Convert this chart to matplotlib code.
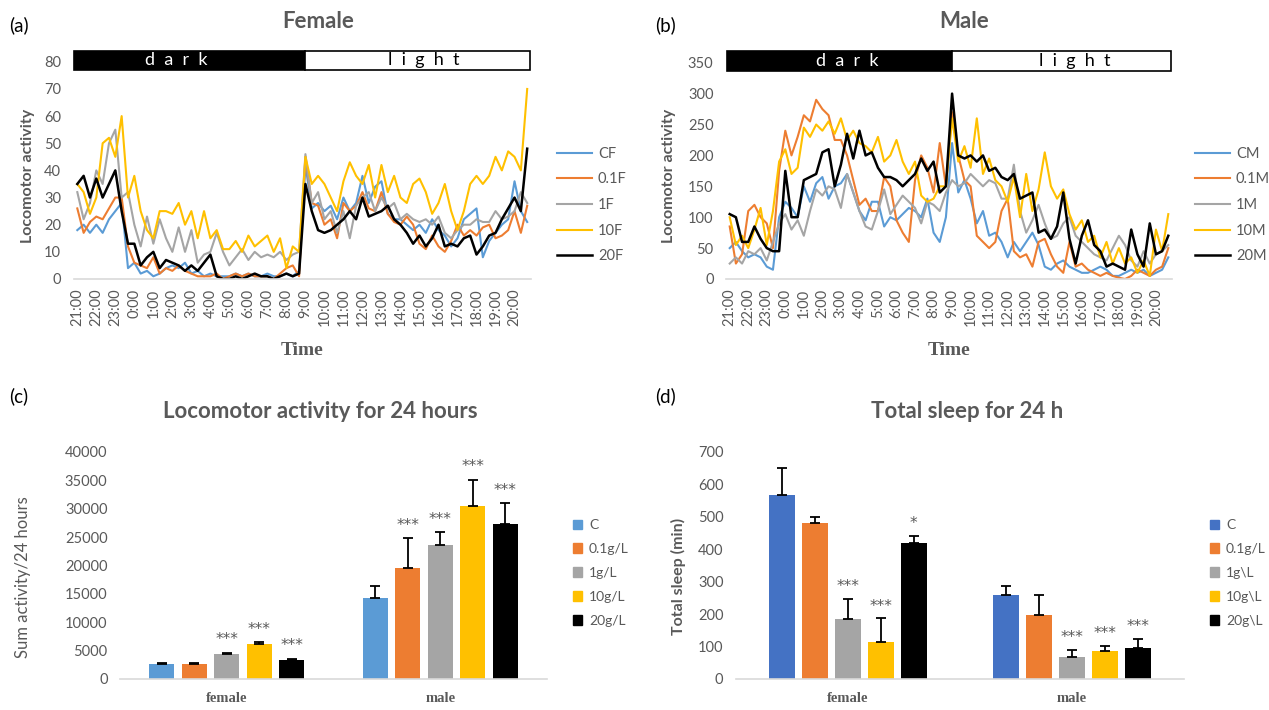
import numpy as np
import matplotlib
matplotlib.use('Agg')
import matplotlib.pyplot as plt
from matplotlib.patches import Rectangle, Patch

plt.rcParams['font.family'] = ['Lato', 'DejaVu Sans']

GRAY = '#595959'
line_colors = ['#5B9BD5', '#ED7D31', '#A5A5A5', '#FFC000', '#000000']

# time axis: 20-minute bins from 21:00 to 20:40
hours = [21, 22, 23] + list(range(0, 21))
hour_labels = ['%d:00' % h for h in hours]

# ---- (a) Female locomotor activity ----
female_labels = ['CF', '0.1F', '1F', '10F', '20F']
cf = [18, 20, 17, 20, 17, 22, 25, 28, 4, 6, 2, 3, 1, 2, 4, 5, 4, 6, 2, 3, 1, 2, 1, 1,
      1, 2, 1, 2, 1, 1, 2, 1, 1, 2, 1, 3, 42, 26, 28, 25, 27, 22, 30, 25, 28, 38, 28, 34,
      36, 24, 22, 22, 20, 18, 20, 17, 22, 18, 16, 12, 15, 22, 24, 26, 8, 14, 17, 20, 22, 36, 25, 21]
f01 = [26, 17, 21, 23, 22, 26, 30, 30, 12, 6, 5, 4, 8, 2, 4, 3, 5, 3, 2, 1, 1, 1, 2, 0,
       1, 2, 1, 2, 1, 1, 1, 0, 2, 4, 5, 1, 45, 28, 27, 20, 22, 15, 28, 25, 27, 32, 26, 25,
       32, 24, 21, 20, 23, 20, 13, 11, 16, 12, 10, 14, 20, 16, 18, 16, 19, 20, 15, 16, 18, 25, 17, 27]
f1 = [32, 22, 28, 40, 35, 50, 55, 30, 32, 20, 12, 23, 13, 22, 15, 10, 19, 10, 18, 6, 9, 10, 17, 10,
      5, 8, 11, 7, 10, 8, 9, 8, 10, 7, 9, 10, 46, 28, 32, 22, 25, 17, 25, 15, 27, 30, 32, 25,
      30, 26, 28, 22, 24, 22, 21, 22, 20, 23, 17, 15, 18, 20, 20, 22, 21, 21, 25, 22, 23, 25, 32, 28]
f10 = [35, 32, 24, 30, 50, 52, 45, 60, 30, 38, 25, 18, 15, 25, 25, 24, 28, 20, 25, 15, 25, 15, 18, 11,
       11, 14, 10, 16, 12, 14, 16, 10, 15, 4, 12, 10, 45, 35, 38, 35, 30, 25, 36, 43, 38, 35, 42, 30,
       42, 32, 38, 30, 28, 35, 37, 32, 24, 28, 35, 25, 18, 25, 35, 38, 35, 38, 45, 40, 47, 45, 40, 70]
f20 = [35, 38, 30, 37, 30, 35, 40, 25, 13, 13, 5, 8, 10, 4, 7, 6, 5, 3, 5, 3, 6, 9, 1, 0,
       0, 1, 0, 1, 2, 1, 1, 0, 1, 2, 1, 2, 35, 25, 18, 17, 18, 20, 22, 25, 22, 30, 23, 24,
       25, 27, 22, 20, 17, 13, 16, 12, 15, 20, 12, 13, 12, 15, 16, 9, 12, 16, 17, 22, 26, 30, 25, 48]

# ---- (b) Male locomotor activity ----
male_labels = ['CM', '0.1M', '1M', '10M', '20M']
cm = [50, 60, 45, 35, 40, 35, 20, 15, 100, 125, 115, 100, 150, 125, 155, 165, 130, 150, 155, 170, 140, 110, 95, 125,
      125, 85, 100, 95, 105, 115, 110, 100, 130, 75, 60, 100, 220, 140, 160, 130, 90, 110, 70, 75, 60, 35, 60, 45,
      60, 75, 55, 20, 15, 25, 30, 20, 15, 10, 10, 15, 20, 15, 5, 5, 10, 15, 10, 15, 5, 10, 15, 35]
m01 = [85, 25, 40, 110, 120, 100, 90, 50, 175, 240, 200, 230, 265, 255, 290, 275, 265, 225, 225, 200, 160, 120, 130, 110,
       110, 165, 150, 95, 75, 60, 160, 200, 180, 140, 220, 150, 270, 200, 160, 150, 70, 60, 50, 60, 110, 130, 45, 35,
       40, 20, 60, 65, 40, 20, 10, 60, 20, 25, 15, 10, 5, 10, 5, 2, 0, 5, 15, 10, 5, 15, 20, 50]
m1 = [25, 35, 25, 45, 40, 50, 30, 60, 90, 105, 80, 95, 70, 110, 145, 135, 150, 145, 115, 170, 140, 110, 85, 80,
      110, 145, 105, 120, 135, 125, 115, 90, 125, 120, 110, 140, 160, 150, 155, 170, 160, 150, 160, 155, 130, 130, 185, 110,
      75, 95, 120, 90, 65, 70, 90, 100, 70, 60, 50, 40, 35, 30, 50, 70, 55, 30, 20, 45, 25, 40, 45, 55]
m10 = [100, 55, 70, 50, 80, 115, 55, 110, 190, 210, 170, 180, 245, 230, 250, 240, 255, 235, 260, 225, 240, 220, 215, 205,
       230, 190, 200, 225, 190, 170, 190, 135, 125, 130, 150, 150, 260, 190, 215, 180, 260, 170, 195, 160, 150, 125, 165, 100,
       170, 110, 145, 205, 150, 130, 145, 105, 80, 95, 60, 70, 35, 60, 25, 50, 25, 35, 10, 30, 5, 80, 45, 105]
m20 = [105, 100, 60, 60, 85, 65, 50, 45, 45, 175, 100, 100, 160, 165, 170, 205, 210, 150, 185, 235, 195, 240, 200, 205,
       180, 165, 165, 160, 150, 160, 170, 195, 175, 190, 140, 150, 300, 200, 195, 200, 190, 200, 175, 180, 165, 160, 170, 130,
       135, 140, 75, 80, 65, 85, 140, 65, 25, 70, 95, 55, 45, 20, 25, 20, 15, 80, 40, 20, 90, 40, 45, 70]

# ---- (c) Sum activity / 24 h ----
groups = ['female', 'male']
dose_c = ['C', '0.1g/L', '1g/L', '10g/L', '20g/L']
act_mean = {'female': [2700, 2700, 4400, 6200, 3300],
            'male': [14200, 19500, 23600, 30500, 27300]}
act_err = {'female': [200, 200, 200, 300, 300],
           'male': [2200, 5300, 2300, 4600, 3700]}
act_sig = {'female': ['', '', '***', '***', '***'],
           'male': ['', '***', '***', '***', '***']}

# ---- (d) Total sleep / 24 h ----
dose_d = ['C', '0.1g/L', '1g\\L', '10g\\L', '20g\\L']
sleep_mean = {'female': [568, 481, 186, 115, 418],
              'male': [259, 197, 69, 87, 96]}
sleep_err = {'female': [82, 19, 60, 72, 24],
             'male': [27, 62, 20, 16, 28]}
sleep_sig = {'female': ['', '', '***', '***', '*'],
             'male': ['', '', '***', '***', '***']}
bar_colors_c = ['#5B9BD5', '#ED7D31', '#A5A5A5', '#FFC000', '#000000']
bar_colors_d = ['#4472C4', '#ED7D31', '#A5A5A5', '#FFC000', '#000000']

W, H = 1269, 710
fig = plt.figure(figsize=(W / 100, H / 100), dpi=100)


def px_axes(l, t, r, b):
    return fig.add_axes([l / W, 1 - b / H, (r - l) / W, (b - t) / H])


def clean(ax, pad):
    for s in ['top', 'right', 'left']:
        ax.spines[s].set_visible(False)
    ax.spines['bottom'].set_color('#D9D9D9')
    ax.spines['bottom'].set_linewidth(1.2)
    ax.tick_params(length=0, colors=GRAY, labelsize=10.5)
    ax.tick_params(axis='y', pad=pad)


def line_panel(ax, series, labels, ymax, step, bar_lo, bar_hi, dark_x, light_x, lab_x, leg_x):
    x = np.arange(len(series[0]))
    for s, lab, c in zip(series, labels, line_colors):
        ax.plot(x, s, color=c, lw=1.8 if c == '#000000' else 1.5, label=lab)
    n = len(x)
    ax.set_xlim(-0.6, n - 0.4)
    ax.set_ylim(0, bar_hi + (bar_hi - bar_lo) * 0.05)
    ax.set_yticks(np.arange(0, ymax + 1, step))
    ax.set_xticks(x[::3])
    ax.set_xticklabels(hour_labels, rotation=90, fontsize=10.5)
    clean(ax, 9)
    ax.tick_params(axis='x', pad=7)
    ax.add_patch(Rectangle((-0.5, bar_lo), 36.5, bar_hi - bar_lo, facecolor='black',
                           edgecolor='black', lw=1.2, clip_on=False))
    ax.add_patch(Rectangle((36, bar_lo), n - 36.5, bar_hi - bar_lo, facecolor='white',
                           edgecolor='black', lw=1.2, clip_on=False))
    mid = (bar_lo + bar_hi) / 2
    ax.text(dark_x, mid, 'd  a  r  k', color='white', ha='center', va='center', fontsize=13)
    ax.text(light_x, mid, 'l  i  g  h  t', color='black', ha='center', va='center', fontsize=13)
    ax.set_ylabel('Locomotor activity', fontsize=11.5, fontweight='bold', color=GRAY)
    ax.yaxis.set_label_coords(lab_x, 0.45)
    ax.set_xlabel('Time', fontsize=14, fontweight='bold', family='Liberation Serif',
                  color=GRAY, labelpad=11)
    ax.legend(loc='center left', bbox_to_anchor=(leg_x / W, 1 - 205 / H),
              bbox_transform=fig.transFigure, frameon=False, borderpad=0, borderaxespad=0,
              fontsize=10.5, labelcolor=GRAY, handlelength=2.4, handletextpad=0.4,
              labelspacing=0.8)


ax_a = px_axes(73.5, 50, 531, 279)
line_panel(ax_a, [cf, f01, f1, f10, f20], female_labels, 80, 10, 77, 84, 15.6, 54.6,
           -0.084, 557)
ax_b = px_axes(726, 50, 1172, 279)
line_panel(ax_b, [cm, m01, m1, m10, m20], male_labels, 350, 50, 337, 369, 19.0, 55.8,
           -0.112, 1195)


def bar_panel(ax, means, errs, sigs, colors, labels, ymax, step, width, pitch, star_off):
    xc = np.arange(len(groups))
    handles = []
    for i, (lab, c) in enumerate(zip(labels, colors)):
        xs = xc + (i - 2) * pitch
        vals = [means[g][i] for g in groups]
        es = [errs[g][i] for g in groups]
        ax.bar(xs, vals, width, color=c, label=lab, zorder=2)
        ax.errorbar(xs, vals, yerr=[np.zeros(len(es)), es], fmt='none', ecolor='black',
                    elinewidth=1.3, capsize=3.5, capthick=1.3, zorder=3)
        for xx, v, e, g in zip(xs, vals, es, groups):
            if sigs[g][i]:
                ax.text(xx, v + e + star_off, sigs[g][i], ha='center', va='baseline',
                        fontsize=11, color=GRAY, family='DejaVu Sans')
        handles.append(Patch(color=c, label=lab))
    ax.set_xlim(-0.5, 1.5)
    ax.set_ylim(0, ymax)
    ax.set_yticks(np.arange(0, ymax + 1, step))
    ax.set_xticks(xc)
    ax.set_xticklabels(groups, fontsize=14, fontweight='bold', family='Liberation Serif')
    clean(ax, 9)
    ax.tick_params(axis='x', pad=9)
    return handles


def bar_legend(ax, handles, leg_x):
    ax.legend(handles=handles, loc='center left', bbox_to_anchor=(leg_x / W, 1 - 573 / H),
              bbox_transform=fig.transFigure, frameon=False, borderpad=0, borderaxespad=0,
              fontsize=10, labelcolor=GRAY, handlelength=0.65, handleheight=0.7,
              handletextpad=0.5, labelspacing=0.85)


ax_c = px_axes(120, 452, 547, 679)
hc = bar_panel(ax_c, act_mean, act_err, act_sig, bar_colors_c, dose_c, 40000, 5000,
               0.118, 0.152, 1500)
ax_c.set_ylabel('Sum activity/24 hours', fontsize=12, color=GRAY)
ax_c.yaxis.set_label_coords(-0.209, 0.45)
bar_legend(ax_c, hc, 573)

ax_d = px_axes(736, 452, 1184, 679)
hd = bar_panel(ax_d, sleep_mean, sleep_err, sleep_sig, bar_colors_d, dose_d, 700, 100,
               0.117, 0.147, 24)
ax_d.set_ylabel('Total sleep (min)', fontsize=11.5, fontweight='bold', color=GRAY)
ax_d.yaxis.set_label_coords(-0.112, 0.45)
bar_legend(ax_d, hd, 1210)

# titles and panel letters
fig.text(318 / W, 1 - 22 / H, 'Female', ha='center', va='center', fontsize=16,
         fontweight='bold', color=GRAY)
fig.text(964 / W, 1 - 22 / H, 'Male', ha='center', va='center', fontsize=16,
         fontweight='bold', color=GRAY)
fig.text(320 / W, 1 - 412 / H, 'Locomotor activity for 24 hours', ha='center', va='center',
         fontsize=16, fontweight='bold', color=GRAY)
fig.text(967 / W, 1 - 412 / H, 'Total sleep for 24 h', ha='center', va='center',
         fontsize=16, fontweight='bold', color=GRAY)
for lab, xx, yy in [('(a)', 9, 25), ('(b)', 655, 25), ('(c)', 9, 396), ('(d)', 655, 396)]:
    fig.text(xx / W, 1 - yy / H, lab, ha='left', va='center', fontsize=13.5, color='black')

fig.savefig('out.png', dpi=100)
